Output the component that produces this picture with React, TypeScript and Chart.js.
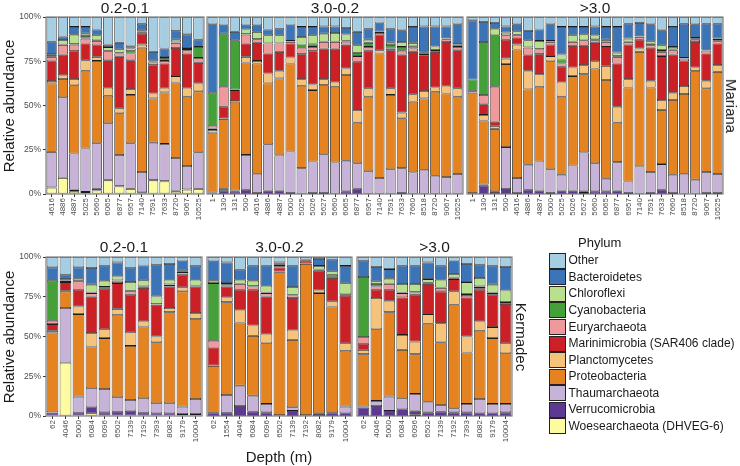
import React, { useEffect, useRef } from "react";
import { Chart, registerables } from "chart.js";

Chart.register(...registerables);

const FONT = "'Liberation Sans', Arial, Helvetica, sans-serif";

// stack order: bottom -> top
const phyla = [
  "Woesearchaeota (DHVEG-6)",
  "Verrucomicrobia",
  "Thaumarchaeota",
  "Proteobacteria",
  "Planctomycetes",
  "Marinimicrobia (SAR406 clade)",
  "Euryarchaeota",
  "Cyanobacteria",
  "Chloroflexi",
  "Bacteroidetes",
  "Other",
];
const phylumColors = [
  "#fdfb9f",
  "#5c3a92",
  "#c7b3d8",
  "#e48320",
  "#f6c37a",
  "#cc2027",
  "#ee9a9c",
  "#46a03a",
  "#b9e08e",
  "#3b74b7",
  "#a6cee3",
];
const yTickValues = [0, 25, 50, 75, 100];

const sizeFractions = ["0.2-0.1", "3.0-0.2", ">3.0"];
const trenches = ["Mariana", "Kermadec"];

// ---- Mariana ----
const marianaDepthsSmall = ["4616", "4886", "4887", "5025", "5660", "6065", "6877", "6957", "7140", "7591", "7633", "8720", "9067", "10525"];
const marianaSmall = [
  [3.5, 0.3, 20, 38.7, 1.3, 11.2, 2.5, 1, 0.5, 7, 14],
  [9, 0.3, 45.3, 10.4, 2, 11.8, 5.4, 0.2, 2.6, 2, 11],
  [1.5, 1, 20.4, 38.5, 3.6, 15.7, 3.7, 0.3, 5.3, 4.4, 5.6],
  [0.5, 0.7, 24.5, 43.9, 6, 9.4, 2.8, 1.5, 1.3, 3.8, 5.6],
  [2, 1, 25.7, 46.5, 2.3, 6.5, 2.5, 0.3, 2.9, 3.2, 7.1],
  [7.7, 0.3, 32, 15.5, 4.5, 15.6, 5.1, 0.3, 2, 1.4, 15.6],
  [4.3, 0.2, 17.5, 23.6, 2.8, 29.1, 1.9, 0.4, 2, 3.6, 14.6],
  [2.8, 0.2, 25.7, 27.3, 3.3, 16.3, 3.8, 1.3, 1.5, 1.3, 16.5],
  [0.3, 0.7, 11.4, 70.3, 1.7, 6.2, 0.5, 0.7, 0.7, 3.7, 3.8],
  [7.7, 0.2, 21.1, 25, 2.8, 16, 1.5, 0.5, 0.8, 4.7, 19.7],
  [7.1, 0.2, 21, 29.1, 2.6, 13.7, 1.5, 1.7, 0.5, 4.8, 17.8],
  [1.5, 0.5, 18.3, 42.7, 3.6, 15.9, 2.9, 0.3, 1.5, 4.8, 8],
  [2.4, 0.2, 13.2, 39.2, 5, 19.4, 1.8, 0.7, 0.6, 7.7, 9.8],
  [2.8, 0.2, 20.6, 34.4, 4.5, 11.6, 2.8, 6.2, 0, 4.1, 12.8],
];

const marianaDepthsLarge = ["1", "130", "131", "500", "4616", "4886", "4887", "5000", "5025", "5026", "5627", "5660", "6065", "6877", "6957", "7140", "7591", "7633", "7660", "8518", "8720", "9067", "10525"];
const marianaMedium = [
  [0, 0.3, 0.5, 33.9, 1.5, 0.8, 1.6, 18.6, 0, 38.7, 4.1],
  [0, 1.9, 1.1, 39.4, 0.3, 6.6, 11.3, 30, 0, 4.7, 4.7],
  [0, 1.5, 0.5, 50.2, 0.3, 6.2, 0.3, 27.9, 0, 4.7, 8.4],
  [0, 2.4, 19.7, 52.2, 3.2, 7.5, 5, 0.3, 2.6, 2.4, 4.7],
  [0, 0.5, 10.9, 62.3, 1.5, 10.2, 2, 0.2, 4, 3.7, 4.7],
  [0, 2, 26.1, 34.4, 5.6, 11.3, 5.6, 0.2, 4.5, 3.2, 7.1],
  [0, 2, 19.8, 43.5, 4.3, 10.7, 4.7, 0.2, 4.5, 3.7, 6.6],
  [0, 0.5, 23.5, 49.7, 3.4, 7.9, 1, 0.2, 0.3, 8.8, 4.7],
  [0, 0.3, 14.3, 46.6, 3.7, 14.1, 3.6, 1.4, 4.7, 5.7, 5.6],
  [0, 0.5, 17.9, 40.3, 3.2, 18.8, 2.4, 1.9, 4.7, 4.7, 5.6],
  [0, 0.5, 22, 39, 3.4, 17.3, 3.7, 0.2, 4.5, 4.1, 5.3],
  [0, 0.3, 17.5, 42.8, 2.8, 18.8, 3.7, 0.2, 4.9, 3.7, 5.3],
  [0, 1.5, 17.3, 48.4, 3.7, 13.5, 1.7, 0.5, 3.5, 3.7, 6.2],
  [0, 3, 14.4, 22.9, 7.2, 27.2, 3.2, 1.8, 4.3, 7.6, 8.4],
  [0, 0.3, 12.5, 42.2, 4.7, 21.2, 2.2, 2.3, 1.8, 6.2, 6.6],
  [0, 0.3, 8.7, 70.4, 1.8, 8.5, 1.3, 0.5, 0.3, 4.7, 3.5],
  [0, 0.3, 13.7, 42, 3.7, 21.5, 1, 2, 1.3, 7.9, 6.6],
  [0, 0.5, 14.1, 28.2, 3.2, 32.8, 2.1, 2.2, 2.8, 6.6, 7.5],
  [0, 0.3, 11.9, 40, 4.1, 24, 1.9, 1.3, 1.9, 9, 5.6],
  [0, 0.3, 13.4, 40.3, 4.2, 20.2, 0.8, 0.6, 0.5, 14.4, 5.3],
  [0, 0.3, 10, 47.5, 2.4, 20.1, 0.5, 0.5, 2.1, 11.3, 5.3],
  [0, 0.3, 9.3, 47.2, 4.4, 24.7, 1.5, 0.3, 0.3, 6.7, 5.3],
  [0, 0.3, 11, 43.7, 4.7, 21.5, 1.9, 1.3, 0.3, 11.2, 4.1],
];
const marianaLarge = [
  [0, 0.2, 0.3, 56.7, 0.3, 0.5, 0.3, 6.4, 0, 33.4, 1.9],
  [0, 4.7, 0.6, 36.2, 3.2, 6, 5.2, 30, 0, 11.3, 2.8],
  [0, 1.1, 0.4, 35.3, 1.7, 2.4, 19.7, 29.1, 3.7, 3.2, 3.4],
  [0, 2.8, 23.7, 46.9, 3.1, 10.7, 2.5, 0, 1.5, 3.5, 5.3],
  [0, 0.5, 8.5, 72.6, 2.8, 4, 1.3, 0.3, 1.9, 4, 4.1],
  [0, 2.4, 14.1, 42.6, 10.5, 8.8, 4.2, 0.3, 4, 5.2, 7.9],
  [0, 2, 16.4, 42.2, 7.1, 11.3, 2.6, 0.3, 4.6, 6.4, 7.1],
  [0, 0.5, 13.5, 61, 2.9, 6.1, 1.9, 0.3, 0.3, 9.4, 4.1],
  [0, 2, 8.9, 44.1, 8.4, 8.5, 1.8, 2.3, 2.8, 15.6, 5.6],
  [0, 2, 14.1, 50.5, 4.9, 12.2, 2.2, 0.3, 3.5, 4.7, 5.6],
  [0.5, 1, 22, 44.2, 5.1, 10.9, 3.2, 0, 3.3, 4.2, 5.6],
  [0, 1.5, 15.9, 53.5, 4.1, 10.4, 1.5, 0.5, 2.2, 5.1, 5.3],
  [0, 1.5, 7.1, 55.8, 8, 10.7, 2.8, 0.3, 1, 7.2, 5.6],
  [0, 2, 16, 22.3, 9, 24.4, 3.8, 0.5, 1.9, 14.5, 5.6],
  [0, 0.5, 6.6, 53.1, 4.7, 19.1, 1.9, 0.3, 1.6, 8.4, 3.8],
  [0, 0.3, 15.3, 64.7, 1.9, 5, 1.5, 0.2, 0.2, 7.5, 3.4],
  [0, 0.5, 11.9, 47.8, 3.8, 18.7, 1.3, 1, 1.3, 9.6, 4.1],
  [0, 2.4, 14.5, 30.6, 5.6, 24.8, 2.4, 1, 2.7, 8.5, 7.5],
  [0, 0.5, 10.4, 42.2, 4.1, 21.6, 2.4, 0.5, 1.4, 11.3, 5.6],
  [0, 0.3, 11.1, 45.1, 4.5, 14, 1.5, 0.2, 0.2, 19.3, 3.8],
  [0, 0.3, 7.8, 61.3, 2.1, 14.4, 1.3, 0.5, 0.5, 7.7, 4.1],
  [0, 0.5, 11.9, 47.3, 4.3, 15.4, 1.5, 0.3, 0.3, 14.7, 3.8],
  [0, 0.5, 10.8, 57.7, 3.8, 12.2, 1.3, 0.5, 1, 8.4, 3.8],
];

// ---- Kermadec ----
const kermadecDepthsSmall = ["62", "4046", "5000", "6084", "6096", "6502", "7139", "7192", "7393", "8082", "9179", "10004"];
const kermadecSmall = [
  [0, 2.1, 0.3, 50.1, 1.1, 4.2, 2.1, 25.2, 0, 8.4, 6.5],
  [33.6, 0, 34.3, 10.5, 0.3, 5.5, 1, 0.5, 0.5, 2.7, 11.1],
  [0, 2.1, 10.1, 51.9, 4.8, 10.5, 5.3, 0.3, 1.3, 7.2, 6.5],
  [1.7, 3.8, 11.9, 26.3, 8.4, 23.1, 2.1, 0.3, 5, 10.5, 6.9],
  [0, 2.3, 14.7, 32, 5.6, 25.4, 0.9, 0.3, 3.9, 9.4, 5.5],
  [0, 2.7, 9.1, 51.9, 3.7, 16.2, 1.5, 0.3, 2.4, 8.8, 3.4],
  [0, 3.4, 6.7, 34, 8.6, 23.6, 2.1, 0.3, 5.6, 8.9, 6.8],
  [0, 2.1, 9, 45.2, 3.2, 21, 0.5, 0.5, 3.8, 9.4, 5.3],
  [0, 1.7, 6.3, 38.4, 3.6, 20, 0.2, 0.2, 4.8, 20, 4.8],
  [0, 1.7, 6.3, 57.3, 2.6, 13.6, 1.1, 0.3, 2.8, 9.9, 4.4],
  [0, 1.3, 4.6, 72.5, 2.5, 8, 1.6, 0.3, 0.8, 5.7, 2.7],
  [0, 1.3, 9.4, 50.2, 3.8, 16.8, 0.3, 0.3, 3.6, 8.8, 5.5],
];
const kermadecDepthsMedium = ["62", "1554", "4046", "6084", "6096", "6502", "7139", "7192", "8082", "9179", "10004"];
const kermadecMedium = [
  [0, 1.7, 0.3, 29.5, 0.3, 11.3, 4.2, 36.3, 1.5, 12.2, 2.7],
  [0, 2.1, 11.1, 58.4, 3, 6.9, 0.5, 0.5, 1.1, 13, 3.4],
  [0, 6.3, 12.8, 39.7, 8, 12.6, 3.6, 0.3, 2.4, 6.3, 8],
  [0, 2.7, 10.1, 37.6, 6.5, 22.5, 2.1, 0.3, 3.3, 9.4, 5.5],
  [0, 2.3, 5.3, 38.2, 5.9, 23.5, 2.1, 0.3, 4.3, 12.6, 5.5],
  [0, 0.3, 0.3, 89.8, 0.5, 2.5, 0.5, 1, 0.2, 1.5, 3.4],
  [0, 3.2, 2.3, 42.4, 6.3, 20, 1.6, 0.5, 4.8, 13.4, 5.5],
  [0, 0.3, 0.3, 95, 0.3, 1.5, 0.5, 0, 0, 0.5, 1.6],
  [0, 1.3, 0.4, 75.6, 2.1, 12, 0.5, 0.2, 2.3, 4.3, 1.3],
  [0, 1.7, 0.6, 66.6, 3.2, 14.7, 0.5, 1.5, 2.2, 7.3, 1.7],
  [0, 1.7, 4.2, 35.1, 4.8, 29.8, 0.5, 0.5, 6.9, 10.9, 5.6],
];
const kermadecDepthsLarge = ["62", "4046", "5000", "6084", "6096", "6502", "7139", "7192", "7393", "8082", "9179", "10004"];
const kermadecLarge = [
  [0, 5.3, 0.6, 33, 2.7, 3.8, 4.2, 37.8, 0, 10.3, 2.3],
  [0, 6.3, 3.2, 45.1, 19.6, 5.2, 2.1, 1.5, 1.7, 9, 6.3],
  [0, 3.2, 9, 53.1, 7.2, 6.9, 3.6, 0.3, 3, 6.1, 7.6],
  [0, 4.2, 6.9, 30.5, 9.4, 23.6, 2.7, 0.3, 5.4, 11.5, 5.5],
  [0.8, 2.6, 10.5, 25, 7.9, 29.5, 1.4, 0.3, 5, 11.5, 5.5],
  [0, 2.3, 6.7, 49, 6.1, 18.9, 0.5, 0.3, 2.3, 10.5, 3.4],
  [0, 2.7, 4.2, 39.5, 12, 20, 2.1, 0.3, 4.9, 8.8, 5.5],
  [0, 2.3, 2.5, 65.2, 8.4, 7.7, 0.5, 0.5, 2.2, 8, 2.7],
  [0, 2.3, 5.3, 32.3, 10.1, 24.6, 1.5, 0.6, 7.5, 11.4, 4.4],
  [0, 1.7, 9, 42.9, 5.9, 19.9, 1, 1.1, 5.3, 8.4, 4.8],
  [0, 1.7, 5.9, 41.4, 6.9, 20.4, 1, 0.3, 5, 11.9, 5.5],
  [0, 2.3, 5.3, 31.9, 6.3, 24.6, 0.5, 0.8, 7.3, 14.7, 6.3],
];

type PanelProps = {
  labels: string[];
  rows: number[][];
  plotLeft: number;
  plotTop: number;
  plotW: number;
  plotH: number;
  showY: boolean;
};

const frameBorder = {
  id: "frameBorder",
  afterDatasetsDraw(chart: any) {
    const { ctx, chartArea: a } = chart;
    ctx.save();
    ctx.strokeStyle = "#7f7f7f";
    ctx.lineWidth = 1.2;
    ctx.strokeRect(a.left, a.top, a.right - a.left, a.bottom - a.top);
    ctx.restore();
  },
};

function Panel(p: PanelProps) {
  const ref = useRef<HTMLCanvasElement>(null);
  const yW = p.showY ? 40 : 0;
  const padL = 2;
  const padR = 2;
  const padT = 6;
  const xH = 40;
  const cw = yW + padL + p.plotW + padR;
  const ch = padT + p.plotH + xH;
  const left = p.plotLeft - yW - padL;
  const top = p.plotTop - padT;

  useEffect(() => {
    const datasets = phyla.map((name, j) => ({
      label: name,
      data: p.rows.map((r) => r[j]),
      backgroundColor: phylumColors[j],
      borderColor: "#1c1c1c",
      borderWidth: 0.8,
      borderSkipped: false,
      categoryPercentage: 0.9,
      barPercentage: 1,
    }));
    const chart = new Chart(ref.current as HTMLCanvasElement, {
      type: "bar",
      data: { labels: p.labels, datasets } as any,
      options: {
        animation: false,
        responsive: false,
        maintainAspectRatio: false,
        layout: { padding: { left: padL, right: padR, top: padT, bottom: 0 } },
        plugins: { legend: { display: false }, tooltip: { enabled: false }, title: { display: false } },
        scales: {
          x: {
            stacked: true,
            offset: true,
            grid: { display: true, drawOnChartArea: false, drawTicks: true, tickLength: 3, color: "#333", offset: false },
            border: { display: false },
            ticks: {
              autoSkip: false,
              minRotation: 90,
              maxRotation: 90,
              padding: 1,
              color: "#4d4d4d",
              font: { size: 8, family: FONT },
            },
            afterFit: (s: any) => {
              s.height = xH;
              s.paddingLeft = 0;
              s.paddingRight = 0;
            },
          },
          y: {
            stacked: true,
            display: p.showY,
            min: 0,
            max: 100,
            afterBuildTicks: (s: any) => {
              s.ticks = yTickValues.map((v) => ({ value: v }));
            },
            grid: { display: true, drawOnChartArea: false, drawTicks: true, tickLength: 3, color: "#333" },
            border: { display: false },
            ticks: {
              callback: (v: any) => v + "%",
              color: "#4d4d4d",
              padding: 2,
              font: { size: 8.5, family: FONT },
            },
            afterFit: (s: any) => {
              s.width = yW;
              s.paddingTop = 0;
              s.paddingBottom = 0;
            },
          },
        },
      } as any,
      plugins: [frameBorder],
    });
    return () => chart.destroy();
  }, []);

  return (
    <canvas
      ref={ref}
      width={cw}
      height={ch}
      style={{ position: "absolute", left, top, width: cw, height: ch }}
    />
  );
}

const textBase: React.CSSProperties = {
  position: "absolute",
  fontFamily: FONT,
  color: "#1a1a1a",
  whiteSpace: "nowrap",
};

function Title(props: { text: string; left: number; width: number; top: number }) {
  return (
    <div style={{ ...textBase, left: props.left, width: props.width, top: props.top, textAlign: "center", fontSize: 15.5, lineHeight: "18px" }}>
      {props.text}
    </div>
  );
}

function Rotated(props: { text: string; cx: number; cy: number; deg: number }) {
  return (
    <div
      style={{
        ...textBase,
        left: props.cx,
        top: props.cy,
        fontSize: 15,
        lineHeight: "18px",
        transform: `translate(-50%, -50%) rotate(${props.deg}deg)`,
      }}
    >
      {props.text}
    </div>
  );
}

export default function App() {
  const topY = 17;
  const topH = 177;
  const botY = 257;
  const botH = 159;
  const legendItems = phyla.map((n, i) => ({ n, c: phylumColors[i] })).reverse();
  return (
    <div style={{ position: "absolute", left: 0, top: 0, width: 740, height: 466, overflow: "hidden", background: "#fff" }}>
      <Panel labels={marianaDepthsSmall} rows={marianaSmall} plotLeft={46} plotTop={topY} plotW={158} plotH={topH} showY={true} />
      <Panel labels={marianaDepthsLarge} rows={marianaMedium} plotLeft={207} plotTop={topY} plotW={256} plotH={topH} showY={false} />
      <Panel labels={marianaDepthsLarge} rows={marianaLarge} plotLeft={467} plotTop={topY} plotW={256} plotH={topH} showY={false} />
      <Panel labels={kermadecDepthsSmall} rows={kermadecSmall} plotLeft={46} plotTop={botY} plotW={156} plotH={botH} showY={true} />
      <Panel labels={kermadecDepthsMedium} rows={kermadecMedium} plotLeft={207} plotTop={botY} plotW={145} plotH={botH} showY={false} />
      <Panel labels={kermadecDepthsLarge} rows={kermadecLarge} plotLeft={357} plotTop={botY} plotW={155} plotH={botH} showY={false} />

      <Title text={sizeFractions[0]} left={46} width={158} top={-1} />
      <Title text={sizeFractions[1]} left={207} width={256} top={-1} />
      <Title text={sizeFractions[2]} left={467} width={256} top={-1} />
      <Title text={sizeFractions[0]} left={46} width={156} top={237.5} />
      <Title text={sizeFractions[1]} left={207} width={145} top={237.5} />
      <Title text={sizeFractions[2]} left={357} width={155} top={237.5} />

      <Rotated text={trenches[0]} cx={730.5} cy={105.5} deg={90} />
      <Rotated text={trenches[1]} cx={521} cy={336.5} deg={90} />
      <Rotated text="Relative abundance" cx={9} cy={105.5} deg={-90} />
      <Rotated text="Relative abundance" cx={9} cy={336.5} deg={-90} />
      <div style={{ ...textBase, left: 179, width: 200, top: 447.5, textAlign: "center", fontSize: 15, lineHeight: "18px" }}>Depth (m)</div>

      <div style={{ ...textBase, left: 578, top: 235, fontSize: 13, lineHeight: "15px" }}>Phylum</div>
      <div style={{ position: "absolute", left: 548.5, top: 252.5 }}>
        {legendItems.map((it) => (
          <div key={it.n} style={{ display: "flex", alignItems: "center", height: 16.57 }}>
            <div style={{ width: 17, height: 16, boxSizing: "border-box", border: "1px solid #222", background: it.c }} />
            <div style={{ fontFamily: FONT, fontSize: 12, color: "#1a1a1a", marginLeft: 3, whiteSpace: "nowrap", lineHeight: "15px" }}>{it.n}</div>
          </div>
        ))}
      </div>
    </div>
  );
}
